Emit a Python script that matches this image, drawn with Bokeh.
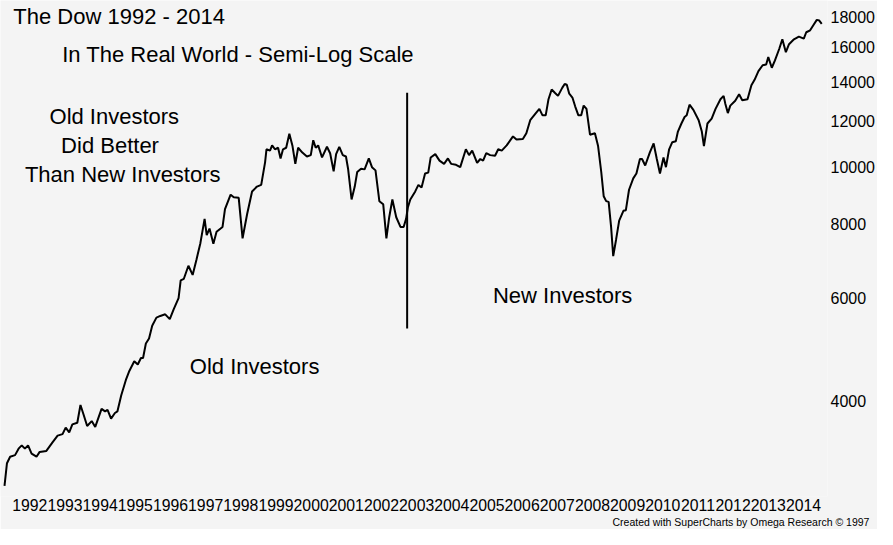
from bokeh.plotting import figure
from bokeh.models import (Range1d, FixedTicker, NumeralTickFormatter, CustomJSTickFormatter,
                          Label, Title, AllLabels)
from bokeh.embed import file_html
from bokeh.resources import INLINE

# ---- data (decimal year, Dow value) ----
t_years = [
    1991.78, 1991.85, 1991.94, 1992.08, 1992.18, 1992.27, 1992.36, 1992.45, 1992.55, 1992.69,
    1992.78, 1992.97, 1993.15, 1993.29, 1993.43, 1993.52, 1993.62, 1993.71, 1993.85, 1993.94,
    1994.03, 1994.13, 1994.26, 1994.36, 1994.54, 1994.64, 1994.71, 1994.81, 1994.92, 1994.99,
    1995.10, 1995.24, 1995.33, 1995.47, 1995.57, 1995.66, 1995.72, 1995.80, 1995.89, 1995.98,
    1996.10, 1996.21, 1996.35, 1996.48, 1996.59, 1996.73, 1996.79, 1996.88, 1997.01, 1997.13,
    1997.24, 1997.35, 1997.47, 1997.53, 1997.61, 1997.72, 1997.81, 1997.98, 1998.05, 1998.21,
    1998.30, 1998.44, 1998.55, 1998.68, 1998.82, 1998.96, 1999.08, 1999.19, 1999.23, 1999.33,
    1999.39, 1999.47, 1999.56, 1999.63, 1999.70, 1999.79, 1999.88, 1999.97, 2000.05, 2000.13,
    2000.25, 2000.38, 2000.49, 2000.56, 2000.63, 2000.70, 2000.81, 2000.95, 2001.04, 2001.14,
    2001.21, 2001.30, 2001.40, 2001.49, 2001.55, 2001.65, 2001.74, 2001.81, 2001.92, 2002.02,
    2002.14, 2002.23, 2002.33, 2002.44, 2002.55, 2002.64, 2002.72, 2002.81, 2002.92, 2003.04,
    2003.13, 2003.20, 2003.25, 2003.32, 2003.46, 2003.55, 2003.64, 2003.74, 2003.83, 2003.90,
    2004.03, 2004.15, 2004.28, 2004.39, 2004.48, 2004.62, 2004.74, 2004.90, 2004.99, 2005.08,
    2005.22, 2005.31, 2005.39, 2005.48, 2005.59, 2005.73, 2005.82, 2005.92, 2006.06, 2006.24,
    2006.34, 2006.52, 2006.62, 2006.73, 2006.89, 2006.99, 2007.08, 2007.17, 2007.25, 2007.34,
    2007.43, 2007.52, 2007.64, 2007.71, 2007.77, 2007.84, 2007.93, 2008.01, 2008.10, 2008.18,
    2008.25, 2008.33, 2008.43, 2008.57, 2008.66, 2008.75, 2008.82, 2008.89, 2008.96, 2009.03,
    2009.09, 2009.17, 2009.26, 2009.38, 2009.45, 2009.54, 2009.66, 2009.75, 2009.85, 2009.91,
    2010.00, 2010.13, 2010.24, 2010.33, 2010.42, 2010.52, 2010.59, 2010.68, 2010.77, 2010.87,
    2010.93, 2011.03, 2011.12, 2011.18, 2011.26, 2011.37, 2011.52, 2011.61, 2011.67, 2011.77,
    2011.89, 2012.00, 2012.14, 2012.23, 2012.28, 2012.35, 2012.42, 2012.56, 2012.67, 2012.76,
    2012.91, 2013.02, 2013.11, 2013.22, 2013.34, 2013.44, 2013.50, 2013.60, 2013.69, 2013.81,
    2013.90, 2014.00, 2014.09, 2014.23, 2014.37, 2014.51, 2014.58, 2014.69, 2014.79, 2014.88,
    2014.95, 2015.02,
]

dow_values = [
    2874, 3140, 3221, 3241, 3324, 3367, 3324, 3367, 3261, 3221,
    3282, 3295, 3410, 3498, 3519, 3610, 3542, 3655, 3679, 3944,
    3797, 3633, 3703, 3619, 3884, 3846, 3870, 3740, 3822, 3846,
    4097, 4366, 4506, 4680, 4622, 4741, 4741, 5019, 5116, 5381,
    5553, 5590, 5626, 5520, 5734, 5992, 6426, 6466, 6804, 6565,
    6976, 7434, 8176, 7672, 7870, 7414, 7772, 7922, 8492, 8990,
    8898, 8878, 7577, 8332, 9104, 9279, 9339, 10204, 10738, 10684,
    10902, 10738, 10803, 10361, 10738, 10803, 11411, 10873, 10142, 10803,
    10600, 10440, 10495, 11124, 10803, 10902, 10400, 10844, 10575, 9850,
    10535, 10844, 10495, 10440, 9951, 8821, 9279, 9824, 9951, 9925,
    10361, 10012, 9887, 8764, 8655, 7577, 8229, 8821, 8229, 7922,
    7922, 8176, 8547, 8821, 9104, 9339, 9244, 9764, 9801, 10400,
    10535, 10270, 10142, 10361, 10142, 10104, 10012, 10738, 10495, 10684,
    10181, 10337, 10270, 10575, 10495, 10468, 10738, 10684, 10902, 11294,
    11154, 11180, 11437, 12035, 12374, 12578, 12266, 12266, 13066, 13572,
    13402, 13235, 13659, 13870, 13830, 13351, 13150, 12694, 12266, 12266,
    12742, 12578, 11368, 11437, 10873, 9824, 8932, 8764, 8740, 7922,
    7067, 7528, 8123, 8438, 8460, 9164, 9580, 9764, 10337, 10337,
    10077, 10600, 10986, 10337, 9764, 10400, 10012, 10738, 11040, 11082,
    11511, 11880, 12187, 12266, 12790, 12530, 12035, 11511, 10873, 11880,
    12108, 12578, 13066, 13235, 12820, 12374, 12742, 12986, 13316, 13015,
    13066, 13801, 14098, 14588, 14924, 14965, 15410, 14778, 15211, 15903,
    16520, 15705, 16208, 16520, 16690, 16564, 16984, 17114, 17489, 17825,
    17780, 17556,
]

year_labels = [str(y) for y in range(1992, 2015)]
price_ticks = [4000, 6000, 8000, 10000, 12000, 14000, 16000, 18000]

title_text = "The Dow 1992 - 2014"
subtitle_text = "In The Real World - Semi-Log Scale"
note_lines = ["Old Investors", "Did Better", "Than New Investors"]
label_old = "Old Investors"
label_new = "New Investors"
credit_text = "Created with SuperCharts by Omega Research \u00a9 1997"
divider_year = 2003.23
divider_values = [5320, 13400]

BG = "#f4f4f4"
FONT = "Liberation Sans"
TXT = "22px"

p = figure(width=877, height=529, y_axis_type="log", y_axis_location="right",
           x_range=Range1d(1991.666, 2015.184), y_range=Range1d(2756, 19232),
           output_backend="svg", toolbar_location=None,
           min_border=0, min_border_left=0, min_border_top=0,
           min_border_right=48, min_border_bottom=33)

p.background_fill_color = BG
p.border_fill_color = BG
p.outline_line_color = None
p.xgrid.grid_line_color = None
p.ygrid.grid_line_color = None

xa = p.xaxis[0]
xa.ticker = FixedTicker(ticks=[int(s) + 0.5 for s in year_labels])
xa.formatter = CustomJSTickFormatter(args=dict(labels=year_labels, first=int(year_labels[0])),
                                     code="return labels[Math.floor(tick) - first];")
xa.major_label_policy = AllLabels()
xa.axis_line_color = None
xa.major_tick_line_color = None
xa.minor_tick_line_color = None
xa.major_tick_out = 0
xa.major_tick_in = 0
xa.minor_tick_out = 0
xa.minor_tick_in = 0
xa.major_label_standoff = 2
xa.major_label_text_font = FONT
xa.major_label_text_font_size = "15.8px"
xa.major_label_text_color = "#000000"

ya = p.yaxis[0]
ya.ticker = FixedTicker(ticks=price_ticks)
ya.formatter = NumeralTickFormatter(format="0")
ya.axis_line_color = None
ya.major_tick_line_color = None
ya.minor_tick_line_color = None
ya.major_tick_out = 0
ya.major_tick_in = 0
ya.minor_tick_out = 0
ya.minor_tick_in = 0
ya.major_label_standoff = 3
ya.major_label_text_font = FONT
ya.major_label_text_font_size = "16px"
ya.major_label_text_color = "#000000"

p.line(t_years, dow_values, line_color="black", line_width=2)
p.segment(x0=[divider_year], y0=[divider_values[0]], x1=[divider_year], y1=[divider_values[1]],
          line_color="black", line_width=2)

def add_text(txt, x, y):
    p.add_layout(Label(x=x, y=y, text=txt, text_font=FONT, text_font_size=TXT, y_offset=7,
                       text_color="black", text_align="left", text_baseline="alphabetic"))

add_text(title_text, 1992.03, 17556)
add_text(subtitle_text, 1993.42, 15120)
add_text(note_lines[0], 1993.06, 11880)
add_text(note_lines[1], 1993.39, 10600)
add_text(note_lines[2], 1992.36, 9482)
add_text(label_old, 1997.05, 4466)
add_text(label_new, 2005.67, 5902)

p.add_layout(Title(text=credit_text, align="left", text_font=FONT, text_font_size="10.5px",
                   text_font_style="normal", text_color="black", standoff=0, offset=612), "below")

open("out.html", "w").write(file_html(p, INLINE))
